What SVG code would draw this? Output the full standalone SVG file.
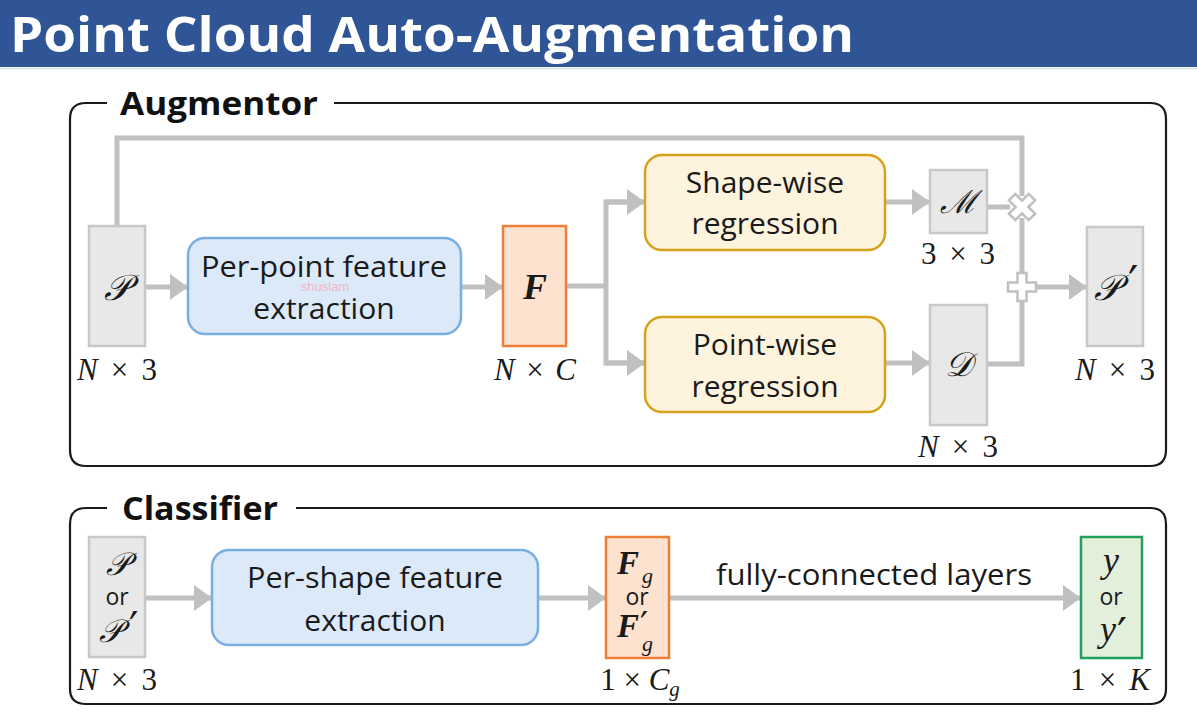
<svg xmlns="http://www.w3.org/2000/svg" width="1197" height="712" viewBox="0 0 1197 712">
<defs>
<marker id="ah" markerUnits="userSpaceOnUse" markerWidth="18" markerHeight="26" refX="18" refY="13" orient="auto">
<path d="M0,0 L18,13 L0,26 z" fill="#c0c0c0"/>
</marker>
<style>
.t{font-family:"Open Sans","Noto Sans",sans-serif;fill:#1a1a1a}
.m{font-family:"Liberation Serif","DejaVu Serif",serif;fill:#1a1a1a}
.pr{font-family:"DejaVu Sans","Liberation Serif",sans-serif;fill:#1a1a1a}
.cal{font-family:"DejaVu Serif","Liberation Serif",serif;font-style:italic;fill:#1a1a1a}
.grey{fill:#e8e8e8;stroke:#c8c8c8;stroke-width:2.5}
.blue{fill:#dce9f8;stroke:#78aee2;stroke-width:2.5}
.orange{fill:#fde2d0;stroke:#ee7f3a;stroke-width:2.5}
.yellow{fill:#fef3dc;stroke:#d6a21c;stroke-width:2.5}
.green{fill:#e2efda;stroke:#22a05a;stroke-width:2.5}
.c{fill:none;stroke:#c0c0c0;stroke-width:5}
.frame{fill:none;stroke:#1a1a1a;stroke-width:2.2}
</style>
</defs>
<rect width="1197" height="712" fill="#ffffff"/>
<g id="title">
<rect x="0" y="0" width="1197" height="67" fill="#2f5597"/>
<line x1="0" y1="68.5" x2="1197" y2="68.5" stroke="#d8dde8" stroke-width="1.5"/>
<text x="10" y="52" font-family="'Open Sans','Noto Sans',sans-serif" font-weight="700" font-size="49" fill="#ffffff" textLength="844" lengthAdjust="spacingAndGlyphs">Point Cloud Auto-Augmentation</text>
</g>
<g id="augmentor-frame">
<path class="frame" d="M107,103 H86 Q70,103 70,119 V450 Q70,466 86,466 H1150 Q1166,466 1166,450 V119 Q1166,103 1150,103 H334"/>
<text x="120" y="115" font-family="'Open Sans','Noto Sans',sans-serif" font-weight="700" font-size="33" fill="#111" textLength="198" lengthAdjust="spacingAndGlyphs">Augmentor</text>
</g>
<g id="classifier-frame">
<path class="frame" d="M107,508 H86 Q70,508 70,524 V689 Q70,704 86,704 H1150 Q1166,704 1166,689 V524 Q1166,508 1150,508 H296"/>
<text x="122" y="520" font-family="'Open Sans','Noto Sans',sans-serif" font-weight="700" font-size="33" fill="#111" textLength="156" lengthAdjust="spacingAndGlyphs">Classifier</text>
</g>
<g id="connectors">
<polyline class="c" points="117,226 117,138 1022,138 1022,196"/>
<line class="c" x1="1022" y1="218" x2="1022" y2="276"/>
<polyline class="c" points="987,364 1022,364 1022,298"/>
<line class="c" x1="987" y1="207" x2="1010" y2="207"/>
<line class="c" x1="145" y1="287" x2="188" y2="287" marker-end="url(#ah)"/>
<line class="c" x1="461" y1="287" x2="503" y2="287" marker-end="url(#ah)"/>
<polyline class="c" points="566,286 606,286"/>
<polyline class="c" points="645,202 606,202 606,363 645,363" style="stroke-linejoin:miter"/>
<line class="c" x1="606" y1="202" x2="645" y2="202" marker-end="url(#ah)"/>
<line class="c" x1="606" y1="363" x2="645" y2="363" marker-end="url(#ah)"/>
<line class="c" x1="885" y1="202" x2="930" y2="202" marker-end="url(#ah)"/>
<line class="c" x1="885" y1="363" x2="930" y2="363" marker-end="url(#ah)"/>
<line class="c" x1="1034" y1="287" x2="1087" y2="287" marker-end="url(#ah)"/>
<line class="c" x1="145" y1="598" x2="212" y2="598" marker-end="url(#ah)"/>
<line class="c" x1="538" y1="598" x2="606" y2="598" marker-end="url(#ah)"/>
<line class="c" x1="669" y1="598" x2="1081" y2="598" marker-end="url(#ah)"/>
<text class="t" x="874" y="585" font-size="29" text-anchor="middle" textLength="316" lengthAdjust="spacingAndGlyphs">fully-connected layers</text>
<g id="multiply" transform="translate(1022,207) rotate(45)">
<path d="M-4.5,-14 H4.5 V-4.5 H14 V4.5 H4.5 V14 H-4.5 V4.5 H-14 V-4.5 H-4.5 Z" fill="#ffffff" stroke="#c0c0c0" stroke-width="2.5"/>
</g>
<g id="add" transform="translate(1022,287)">
<path d="M-4.5,-14 H4.5 V-4.5 H14 V4.5 H4.5 V14 H-4.5 V4.5 H-14 V-4.5 H-4.5 Z" fill="#ffffff" stroke="#c0c0c0" stroke-width="2.5"/>
</g>
</g>
<g id="node-P">
<rect class="grey" x="89" y="226" width="56" height="120"/>
<text class="cal" x="117" y="300" font-size="36" text-anchor="middle">𝒫</text>
<text class="m" x="117" y="380" font-size="31" text-anchor="middle" textLength="80" lengthAdjust="spacing"><tspan font-style="italic">N</tspan> × 3</text>
</g>
<g id="node-perpoint">
<rect class="blue" x="188" y="238" width="273" height="96" rx="17"/>
<text class="t" x="324" y="277" font-size="30" text-anchor="middle" textLength="246" lengthAdjust="spacingAndGlyphs">Per-point feature</text>
<text class="t" x="324" y="319" font-size="30" text-anchor="middle">extraction</text>
<text x="325" y="291" font-family="'Liberation Sans',sans-serif" font-size="13" fill="#f2b6c4" text-anchor="middle">shuslam</text>
</g>
<g id="node-F">
<rect class="orange" x="503" y="226" width="63" height="120"/>
<text class="m" x="535" y="299" font-size="36" font-weight="700" font-style="italic" text-anchor="middle">F</text>
<text class="m" x="535" y="380" font-size="31" text-anchor="middle" textLength="82" lengthAdjust="spacing"><tspan font-style="italic">N</tspan> × <tspan font-style="italic">C</tspan></text>
</g>
<g id="node-shapewise">
<rect class="yellow" x="645" y="155" width="240" height="95" rx="17"/>
<text class="t" x="765" y="193" font-size="30" text-anchor="middle">Shape-wise</text>
<text class="t" x="765" y="234" font-size="30" text-anchor="middle">regression</text>
</g>
<g id="node-pointwise">
<rect class="yellow" x="645" y="317" width="240" height="95" rx="17"/>
<text class="t" x="765" y="355" font-size="30" text-anchor="middle">Point-wise</text>
<text class="t" x="765" y="397" font-size="30" text-anchor="middle">regression</text>
</g>
<g id="node-M">
<rect class="grey" x="930" y="170" width="57" height="63"/>
<text class="cal" x="958" y="213" font-size="32" text-anchor="middle">ℳ</text>
<text class="m" x="958" y="264" font-size="31" text-anchor="middle" textLength="74" lengthAdjust="spacing">3 × 3</text>
</g>
<g id="node-D">
<rect class="grey" x="930" y="305" width="57" height="120"/>
<text class="cal" x="958" y="376" font-size="34" text-anchor="middle">𝒟</text>
<text class="m" x="958" y="457" font-size="31" text-anchor="middle" textLength="80" lengthAdjust="spacing"><tspan font-style="italic">N</tspan> × 3</text>
</g>
<g id="node-Pprime">
<rect class="grey" x="1087" y="227" width="56" height="119"/>
<text class="cal" x="1107" y="300" font-size="36" text-anchor="middle">𝒫</text>
<text class="pr" x="1128" y="299" font-size="46">′</text>
<text class="m" x="1115" y="380" font-size="31" text-anchor="middle" textLength="80" lengthAdjust="spacing"><tspan font-style="italic">N</tspan> × 3</text>
</g>
<g id="node-cls-input">
<rect class="grey" x="89" y="537" width="56" height="120"/>
<text class="cal" x="117" y="575" font-size="32" text-anchor="middle">𝒫</text>
<text class="t" x="117" y="605" font-size="23" text-anchor="middle">or</text>
<text class="cal" x="110" y="642" font-size="32" text-anchor="middle">𝒫</text>
<text class="pr" x="129" y="642" font-size="42">′</text>
<text class="m" x="117" y="690" font-size="31" text-anchor="middle" textLength="80" lengthAdjust="spacing"><tspan font-style="italic">N</tspan> × 3</text>
</g>
<g id="node-pershape">
<rect class="blue" x="212" y="550" width="326" height="95" rx="17"/>
<text class="t" x="375" y="588" font-size="30" text-anchor="middle" textLength="256" lengthAdjust="spacingAndGlyphs">Per-shape feature</text>
<text class="t" x="375" y="631" font-size="30" text-anchor="middle">extraction</text>
</g>
<g id="node-Fg">
<rect class="orange" x="606" y="537" width="63" height="121"/>
<text class="m" x="617" y="574" font-size="33" font-weight="700" font-style="italic">F</text>
<text class="m" x="642" y="583" font-size="22" font-style="italic">g</text>
<text class="t" x="637" y="605" font-size="23" text-anchor="middle">or</text>
<text class="m" x="617" y="637" font-size="33" font-weight="700" font-style="italic">F</text>
<text class="pr" x="640" y="637" font-size="36">′</text>
<text class="m" x="642" y="651" font-size="22" font-style="italic">g</text>
<text class="m" x="640" y="690" font-size="31" text-anchor="middle">1 × <tspan font-style="italic">C</tspan><tspan font-style="italic" font-size="21" dy="6">g</tspan></text>
</g>
<g id="node-y">
<rect class="green" x="1081" y="537" width="61" height="121"/>
<text class="m" x="1111" y="572" font-size="36" font-style="italic" text-anchor="middle">y</text>
<text class="t" x="1111" y="605" font-size="23" text-anchor="middle">or</text>
<text class="m" x="1108" y="641" font-size="36" font-style="italic" text-anchor="middle">y</text>
<text class="pr" x="1117" y="650" font-size="44">′</text>
<text class="m" x="1110" y="690" font-size="31" text-anchor="middle" textLength="80" lengthAdjust="spacing">1 × <tspan font-style="italic">K</tspan></text>
</g>
</svg>
